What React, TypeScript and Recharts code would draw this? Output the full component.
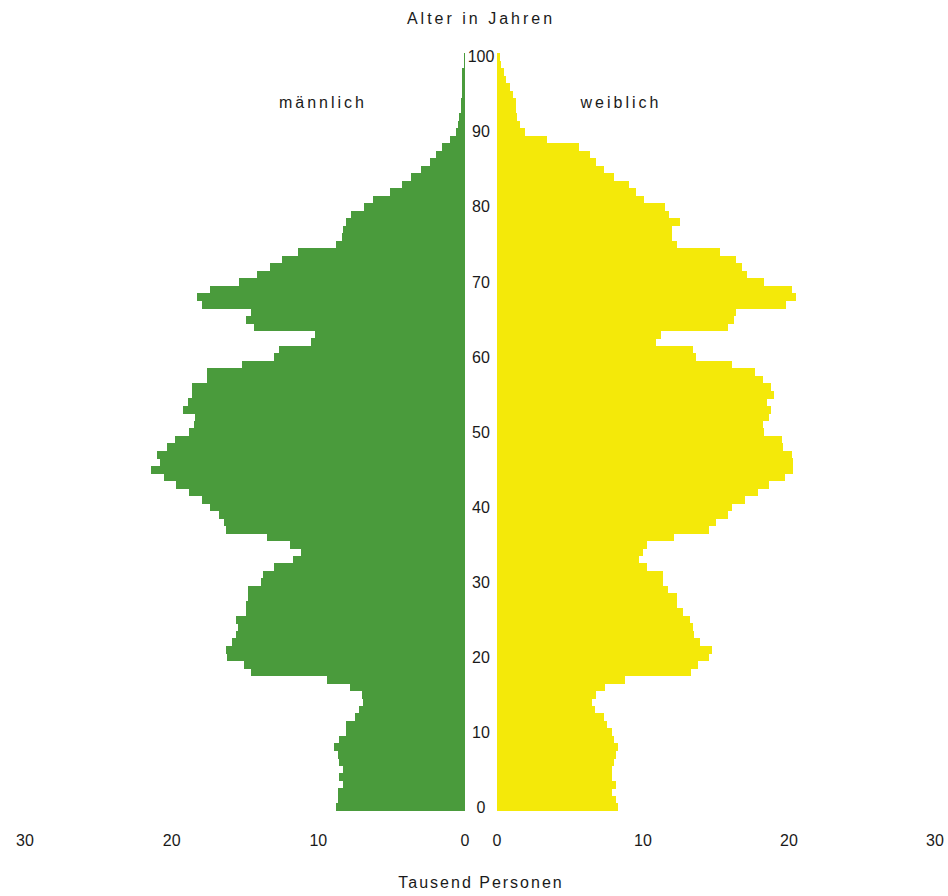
import React from 'react';
import { BarChart, Bar, XAxis, YAxis } from 'recharts';

// Bevölkerung nach Alter (0..100), in Tausend Personen
const ages: number[] = Array.from({ length: 101 }, (_, i) => i);

const male: number[] = [
  8.8, 8.65, 8.65, 8.3, 8.6, 8.3, 8.6, 8.65, 8.9, 8.6,
  8.1, 8.1, 7.5, 7.2, 6.95, 7.05, 7.85, 9.4, 14.6, 15.1,
  16.2, 16.3, 15.9, 15.6, 15.5, 15.6, 14.95, 14.9, 14.8, 14.8,
  13.9, 13.8, 13.0, 11.7, 11.2, 11.9, 13.5, 16.3, 16.4, 16.8,
  17.4, 17.9, 18.8, 19.7, 20.5, 21.4, 20.8, 21.0, 20.3, 19.8,
  18.8, 18.5, 18.4, 19.2, 18.9, 18.6, 18.6, 17.6, 17.6, 15.2,
  13.0, 12.7, 10.5, 10.2, 14.4, 14.9, 14.6, 17.9, 18.3, 17.4,
  15.4, 14.2, 13.3, 12.5, 11.4, 8.8, 8.4, 8.3, 8.1, 7.8,
  6.9, 6.3, 5.1, 4.3, 3.7, 3.0, 2.4, 2.0, 1.6, 1.0,
  0.6, 0.5, 0.4, 0.3, 0.25, 0.23, 0.23, 0.23, 0.2, 0.1,
  0.05,
];

const female: number[] = [
  8.3, 8.15, 7.9, 8.15, 7.9, 7.9, 8.0, 8.15, 8.3, 8.0,
  7.85, 7.55, 7.3, 6.7, 6.5, 6.8, 7.4, 8.8, 13.3, 13.8,
  14.5, 14.7, 13.9, 13.5, 13.4, 13.2, 12.75, 12.3, 12.3, 11.7,
  11.4, 11.4, 10.3, 9.75, 10.0, 10.3, 12.1, 14.5, 15.0, 15.8,
  16.1, 17.0, 17.9, 18.6, 19.7, 20.3, 20.3, 20.2, 19.6, 19.5,
  18.3, 18.2, 18.6, 18.8, 18.5, 18.95, 18.8, 18.2, 17.7, 16.1,
  13.6, 13.4, 10.9, 11.2, 15.8, 16.2, 16.4, 19.8, 20.5, 20.2,
  18.3, 17.1, 16.8, 16.4, 15.3, 12.3, 12.0, 12.0, 12.5, 11.8,
  11.5, 10.1, 9.5, 9.05, 8.0, 7.3, 6.8, 6.4, 5.6, 3.45,
  1.9, 1.55, 1.37, 1.3, 1.3, 1.13, 0.86, 0.64, 0.45, 0.27,
  0.2,
];

const valueTicks = [0, 10, 20, 30];

const data = ages.map((age, i) => ({ age, male: male[i], female: female[i] }));

const FONT = '"Liberation Sans Narrow", "Liberation Sans", Arial, sans-serif';
const TEXT = '#1a1a1a';

const AgeTick = (props: any) => {
  const { x, y, payload } = props;
  return (
    <text x={x} y={y} dy="0.35em" textAnchor="middle" fill={TEXT} fontFamily={FONT} fontSize={16}>
      {payload.value}
    </text>
  );
};

const tickStyle = { fill: TEXT, fontFamily: FONT, fontSize: 16 };

export default function App() {
  return (
    <div style={{ position: 'absolute', left: 0, top: 0, width: 948, height: 896, background: '#fff' }}>
      <div style={{ position: 'absolute', left: 0, top: 0 }}>
        <BarChart
          width={470}
          height={896}
          data={data}
          layout="vertical"
          barCategoryGap={0}
          margin={{ top: 53, right: 5, bottom: 45, left: 25 }}
        >
          <XAxis
            type="number"
            domain={[0, 30]}
            ticks={valueTicks}
            reversed
            height={40}
            axisLine={false}
            tickLine={false}
            tickSize={24}
            tickMargin={0}
            tick={tickStyle}
            interval={0}
          />
          <YAxis type="category" dataKey="age" reversed hide />
          <Bar dataKey="male" fill="#4A9B3C" isAnimationActive={false} shapeRendering="crispEdges" />
        </BarChart>
      </div>
      <div style={{ position: 'absolute', left: 465, top: 0 }}>
        <BarChart
          width={483}
          height={896}
          data={data}
          layout="vertical"
          barCategoryGap={0}
          margin={{ top: 53, right: 13, bottom: 45, left: 0 }}
        >
          <XAxis
            type="number"
            domain={[0, 30]}
            ticks={valueTicks}
            height={40}
            axisLine={false}
            tickLine={false}
            tickSize={24}
            tickMargin={0}
            tick={tickStyle}
            interval={0}
          />
          <YAxis
            type="category"
            dataKey="age"
            reversed
            width={32}
            axisLine={false}
            tickLine={false}
            tickSize={0}
            tickMargin={16}
            interval={9}
            tick={<AgeTick />}
          />
          <Bar dataKey="female" fill="#F4E909" isAnimationActive={false} shapeRendering="crispEdges" />
        </BarChart>
      </div>
      <svg width={948} height={896} style={{ position: 'absolute', left: 0, top: 0, pointerEvents: 'none' }}>
        <g fill={TEXT} fontFamily={FONT} fontSize={16}>
          <text x={481} y={24} textAnchor="middle" letterSpacing={3}>Alter in Jahren</text>
          <text x={323} y={108} textAnchor="middle" letterSpacing={3}>männlich</text>
          <text x={621} y={108} textAnchor="middle" letterSpacing={3}>weiblich</text>
          <text x={481} y={888} textAnchor="middle" letterSpacing={2}>Tausend Personen</text>
        </g>
      </svg>
    </div>
  );
}
